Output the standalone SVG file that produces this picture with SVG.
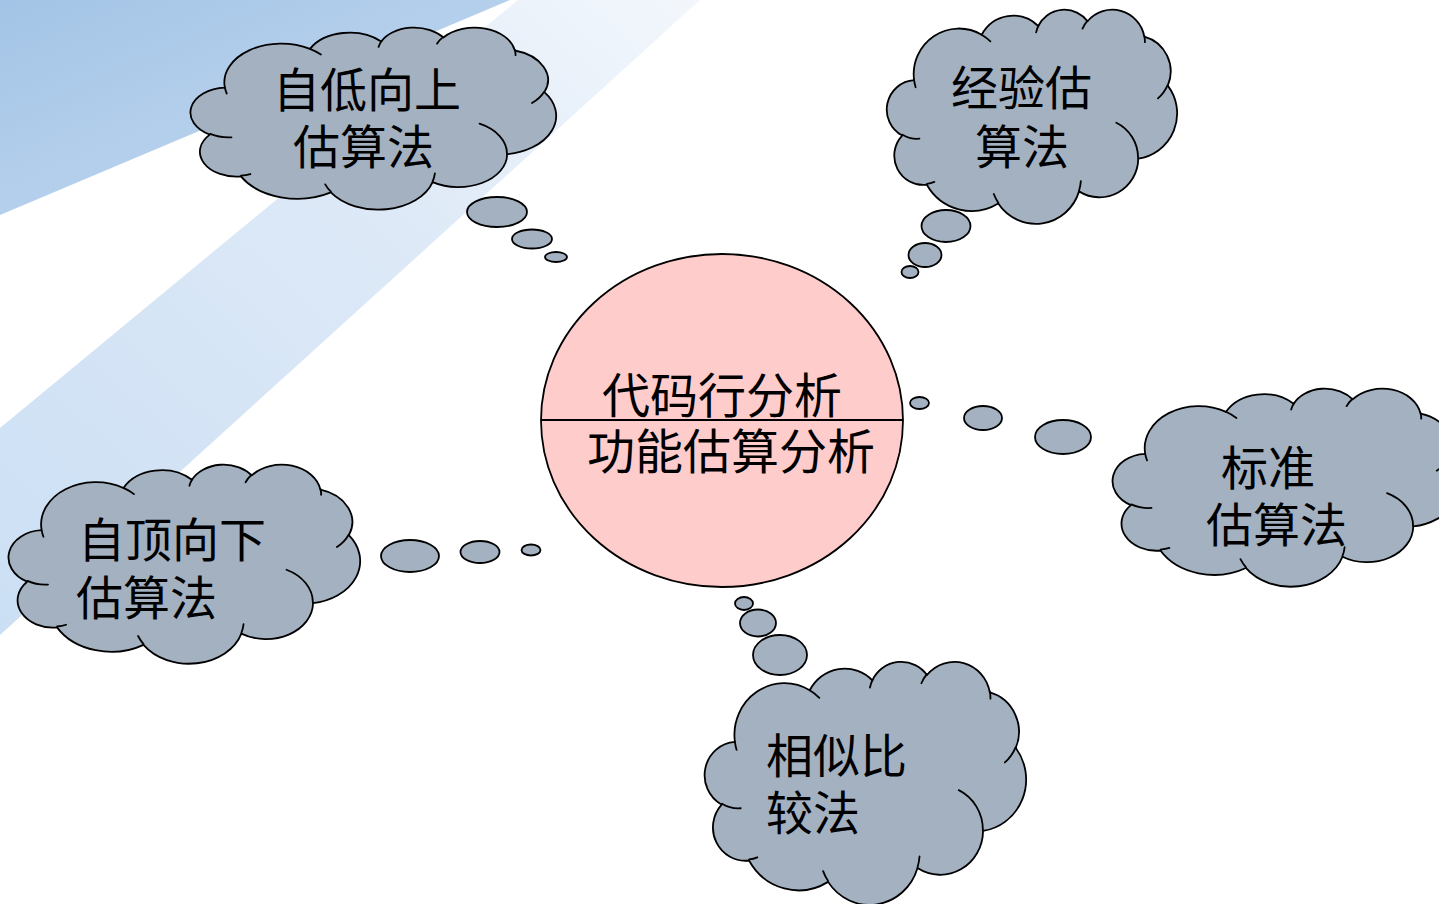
<svg xmlns="http://www.w3.org/2000/svg" xmlns:xlink="http://www.w3.org/1999/xlink" width="1439" height="904" viewBox="0 0 1439 904">
<style>
.cl{fill:#a3b1c1;stroke:#000;stroke-width:1.8;vector-effect:non-scaling-stroke;stroke-linejoin:round}
.ci{fill:none;stroke:#000;stroke-width:1.8;vector-effect:non-scaling-stroke;stroke-linecap:round}
.bub{fill:#a3b1c1;stroke:#000;stroke-width:1.8}
.t{font-family:"Noto Sans CJK SC","Noto Sans CJK JP",sans-serif;font-size:47px;fill:#000}
.tc{font-family:"Noto Sans CJK SC","Noto Sans CJK JP",sans-serif;font-size:48px;fill:#000}
</style>
<defs>
<linearGradient id="gDark" x1="0" y1="0" x2="1" y2="1">
<stop offset="0" stop-color="#a3c4e6"/>
<stop offset="1" stop-color="#c6dbf1"/>
</linearGradient>
<linearGradient id="gBand" x1="0" y1="1" x2="1" y2="0">
<stop offset="0" stop-color="#cbdff4"/>
<stop offset="0.6" stop-color="#dde9f7"/>
<stop offset="1" stop-color="#f3f7fc"/>
</linearGradient>
<path id="cloudOut" class="cl" d="M39,143.7 A67.53 91.9 0 0 1 140.05,52.01 A53.33 72.67 0 0 1 224.56,34.32 A43.65 59.45 0 0 1 298.33,24.8 A48.57 65.95 0 0 1 383.17,55.76 A53.33 72.73 0 0 1 418.18,154.6 A67.75 92.2 0 0 1 374.04,302.03 A57.85 78.67 0 0 1 285.56,368.14 A67.52 92.15 0 0 1 164.81,392.65 A77.2 105.43 0 0 1 58.05,354.72 A43.6 59.18 0 0 1 21.14,255.5 A43.45 59.45 0 0 1 39,143.7 Z"/>
<path id="cloudIn" class="ci" d="M46.93,261.77 A43.45 59.45 0 0 1 21.6,253.8 M69.28,348.99 A43.6 59.18 0 0 1 58.2,352.8 M164.78,390.9 A67.52 92.15 0 0 1 158.1,373.49 M288.27,347.51 A67.52 92.15 0 0 1 285.6,366.6 M341.29,229.54 A57.85 78.67 0 0 1 373.81,300.9 M417.98,153.54 A53.33 72.73 0 0 1 403.5,180.3 M383.24,54.26 A48.57 65.95 0 0 1 384.01,66.9 M290.78,39.52 A48.57 65.95 0 0 1 298.21,23.39 M221.41,47.2 A43.65 59.45 0 0 1 225,33.3 M140,51.92 A67.53 91.9 0 0 1 153,65.41 M41.27,157.89 A67.53 91.9 0 0 1 39,143.71"/>
</defs>

<g id="background">
<rect x="0" y="0" width="1439" height="904" fill="#ffffff"/>
<polygon points="0,428 518,0 700,0 0,635" fill="url(#gBand)"/>
<polygon points="0,0 510,0 0,215" fill="url(#gDark)"/>
</g>

<g id="connectors">
<ellipse class="bub" cx="497" cy="212" rx="30" ry="15"/>
<ellipse class="bub" cx="532" cy="239" rx="20" ry="9.5"/>
<ellipse class="bub" cx="556" cy="257" rx="11" ry="5"/>
<ellipse class="bub" cx="946" cy="226" rx="24.5" ry="16"/>
<ellipse class="bub" cx="925" cy="255" rx="16.5" ry="12"/>
<ellipse class="bub" cx="910" cy="272" rx="8.5" ry="6"/>
<ellipse class="bub" cx="919.5" cy="403" rx="9.5" ry="6"/>
<ellipse class="bub" cx="983" cy="418" rx="19" ry="12"/>
<ellipse class="bub" cx="1063" cy="437" rx="28" ry="17"/>
<ellipse class="bub" cx="410" cy="556" rx="29" ry="16"/>
<ellipse class="bub" cx="480" cy="552" rx="19.5" ry="11"/>
<ellipse class="bub" cx="531" cy="550" rx="9.5" ry="5.5"/>
<ellipse class="bub" cx="744" cy="603.5" rx="9" ry="6.5"/>
<ellipse class="bub" cx="758" cy="623" rx="18" ry="13.5"/>
<ellipse class="bub" cx="780" cy="655" rx="27" ry="20"/>
</g>

<g id="center">
<ellipse cx="722" cy="420.5" rx="181" ry="166.5" fill="#ffcccc" stroke="#000" stroke-width="1.8"/>
<line x1="541" y1="420" x2="903" y2="420" stroke="#000" stroke-width="1.8"/>
<text class="tc"><tspan x="602" y="413">代码行分析</tspan><tspan x="587" y="469">功能估算分析</tspan></text>
</g>

<g id="cloud-bottom-up">
<g transform="translate(192,27) scale(0.8426,0.4213)"><use xlink:href="#cloudOut"/><use xlink:href="#cloudIn"/></g>
<text class="t"><tspan x="273" y="107">自低向上</tspan><tspan x="293" y="164">估算法</tspan></text>
</g>

<g id="cloud-experience">
<g transform="translate(888,9) scale(0.669,0.4954)"><use xlink:href="#cloudOut"/><use xlink:href="#cloudIn"/></g>
<text class="t"><tspan x="951" y="105">经验估</tspan><tspan x="975" y="164">算法</tspan></text>
</g>

<g id="cloud-standard">
<g transform="translate(1114,388) scale(0.80,0.4583)"><use xlink:href="#cloudOut"/><use xlink:href="#cloudIn"/></g>
<text class="t"><tspan x="1221" y="485">标准</tspan><tspan x="1206" y="542">估算法</tspan></text>
</g>

<g id="cloud-top-down">
<g transform="translate(10,464) scale(0.8102,0.4606)"><use xlink:href="#cloudOut"/><use xlink:href="#cloudIn"/></g>
<text class="t"><tspan x="78" y="557">自顶向下</tspan><tspan x="76" y="615">估算法</tspan></text>
</g>

<g id="cloud-similarity">
<g transform="translate(706,661) scale(0.7407,0.5625)"><use xlink:href="#cloudOut"/><use xlink:href="#cloudIn"/></g>
<text class="t"><tspan x="766" y="773">相似比</tspan><tspan x="766" y="830">较法</tspan></text>
</g>
</svg>
